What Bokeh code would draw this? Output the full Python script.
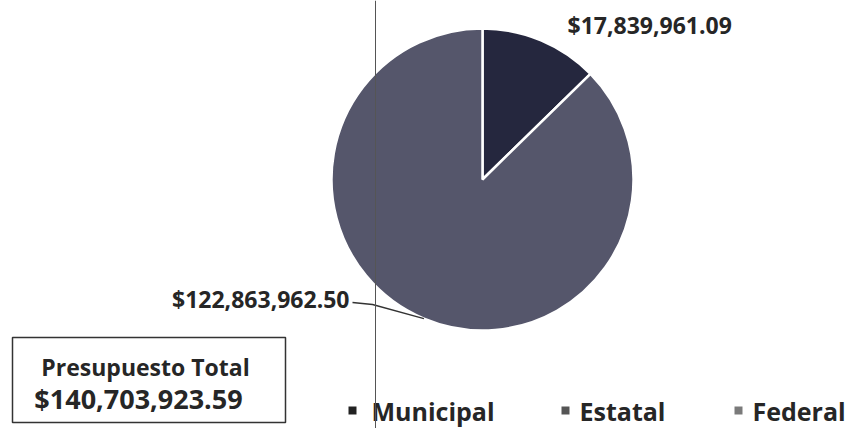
import numpy as np
from bokeh.plotting import figure
from bokeh.models import Range1d, ColumnDataSource, Span
from bokeh.embed import file_html
from bokeh.resources import INLINE
from bokeh.core.properties import value

# ---- data ----
categories = ["Municipal", "Estatal", "Federal"]
amounts = [17839961.09, 0.0, 122863962.50]
slice_colors = ["#25273e", "#5c5c70", "#55566b"]
legend_colors = ["#222222", "#555555", "#7a7a7a"]
value_labels = ["$17,839,961.09", "", "$122,863,962.50"]
total_title = "Presupuesto Total"
total_text = "$140,703,923.59"

W, H = 856, 428
FONT = "Open Sans"
TXT = "#262626"


def X(x):
    return x


def Y(y):
    return H - y


p = figure(width=W, height=H, output_backend="svg", toolbar_location=None,
           x_range=Range1d(0, W), y_range=Range1d(0, H), min_border=0)
p.axis.visible = False
p.grid.visible = False
p.outline_line_color = None

# ---- pie ----
cx, cy, r = X(482), Y(179), 151
vals = np.array(amounts)
frac = vals / vals.sum()
cum = np.concatenate([[0.0], np.cumsum(frac)])
start = np.pi / 2 - 2 * np.pi * cum[:-1]
end = np.pi / 2 - 2 * np.pi * cum[1:]
mid = (start + end) / 2
keep = vals > 0
src = ColumnDataSource(dict(start=start[keep], end=end[keep],
                            color=[c for c, k in zip(slice_colors, keep) if k]))
p.wedge(x=cx, y=cy, radius=r, start_angle="start", end_angle="end",
        direction="clock", fill_color="color", line_color="white",
        line_width=2.5, source=src)

# ---- value labels ----
p.text(x=[X(567)], y=[Y(24)], text=[value_labels[0]], text_font=value(FONT),
       text_font_size="23px", text_color=TXT, text_align="left",
       text_baseline="middle", text_font_style="bold")
ex = cx + r * np.cos(mid[2])
ey = cy + r * np.sin(mid[2])
p.line(x=[X(352), X(372), ex], y=[Y(302), Y(304), ey], line_color="#333333",
       line_width=1.3)
p.text(x=[X(349)], y=[Y(298)], text=[value_labels[2]], text_font=value(FONT),
       text_font_size="23px", text_color=TXT, text_align="right",
       text_baseline="middle", text_font_style="bold")

# ---- vertical rule (scan artifact) ----
p.add_layout(Span(location=X(375), dimension="height", line_color="#555555",
                  line_width=1))

# ---- total box ----
p.quad(left=[X(12)], right=[X(285)], bottom=[Y(422)], top=[Y(337)],
       fill_color="white", line_color="#333333", line_width=1.5)
p.text(x=[X(145)], y=[Y(366)], text=[total_title], text_font=value(FONT),
       text_font_size="23px", text_color=TXT, text_align="center",
       text_baseline="middle", text_font_style="bold")
p.text(x=[X(138)], y=[Y(398)], text=[total_text], text_font=value(FONT),
       text_font_size="27px", text_color=TXT, text_align="center",
       text_baseline="middle", text_font_style="bold")

# ---- legend ----
lx_marker = [352, 565, 738]
lx_text = [371, 579, 752]
ly = 410
p.scatter(x=[X(v) for v in lx_marker], y=[Y(ly)] * 3, marker="square", size=8,
          fill_color=legend_colors, line_color=None)
p.text(x=[X(v) for v in lx_text], y=[Y(ly)] * 3, text=categories,
       text_font=value(FONT), text_font_size="25px", text_color=TXT,
       text_align="left", text_baseline="middle", text_font_style="bold")

open("out.html", "w").write(file_html(p, INLINE))
